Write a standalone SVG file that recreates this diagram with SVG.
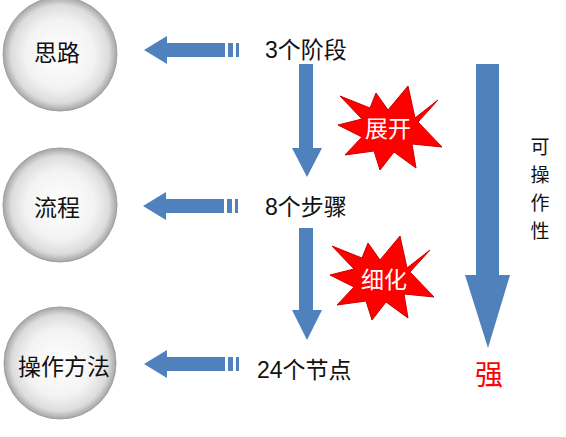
<svg xmlns="http://www.w3.org/2000/svg" xmlns:xlink="http://www.w3.org/1999/xlink" width="566" height="437" viewBox="0 0 566 437">
<style>
.ct{font-family:"Noto Sans CJK SC","Liberation Sans",sans-serif;font-size:23px;fill:#111;text-anchor:middle;dominant-baseline:central}
.lbl{font-family:"Liberation Sans","Noto Sans CJK SC",sans-serif;font-size:23px;fill:#111;dominant-baseline:central}
.vt{font-family:"Noto Sans CJK SC",sans-serif;font-size:19px;fill:#111;text-anchor:middle;dominant-baseline:central}
.burst{fill:#f00;stroke:#c00;stroke-width:1}
.bt{font-family:"Noto Sans CJK SC",sans-serif;font-size:23px;fill:#fff;text-anchor:middle;dominant-baseline:central}
.blue{fill:#4f81bd}
</style>
<defs>
<radialGradient id="g" cx="0.5" cy="0.5" r="0.5">
<stop offset="0" stop-color="#ffffff"/>
<stop offset="0.6" stop-color="#f3f3f3"/>
<stop offset="0.86" stop-color="#dcdcdc"/>
<stop offset="1" stop-color="#a5a5a5"/>
</radialGradient>
<polygon id="star" points="-48,-31 -18,-19 -12,-34 0,-17 20,-41 27,-9 50,-27 30,-5 54,20 24,17 28,41 6,25 -8,43 -14,24 -43,28 -26,10 -50,-2 -26,-8"/>
<g id="harrow">
<polygon points="0,0 23,-14 23,-7 81,-7 81,7 23,7 23,14"/>
<rect x="84" y="-7" width="5" height="14"/>
<rect x="92" y="-7" width="3" height="14"/>
</g>
</defs>
<rect width="566" height="437" fill="#fff"/>
<g id="node-silu">
<circle cx="60" cy="54" r="57" fill="url(#g)" stroke="#a0a0a0" stroke-width="1"/>
<text class="ct" x="57" y="51">思路</text>
</g>
<g id="node-liucheng">
<circle cx="60" cy="205" r="57" fill="url(#g)" stroke="#a0a0a0" stroke-width="1"/>
<text class="ct" x="57" y="206">流程</text>
</g>
<g id="node-caozuo">
<circle cx="60" cy="363" r="56" fill="url(#g)" stroke="#a0a0a0" stroke-width="1"/>
<text class="ct" x="64" y="365">操作方法</text>
</g>
<g id="label-3"><text class="lbl" x="265" y="50">3个阶段</text></g>
<g id="label-8"><text class="lbl" x="265" y="207">8个步骤</text></g>
<g id="label-24"><text class="lbl" x="257" y="370">24个节点</text></g>
<g id="burst-zhankai">
<use xlink:href="#star" href="#star" class="burst" transform="translate(388,127)"/>
<text class="bt" x="388" y="127">展开</text>
</g>
<g id="burst-xihua">
<use xlink:href="#star" href="#star" class="burst" transform="translate(380,277)"/>
<text class="bt" x="384" y="278">细化</text>
</g>
<g id="connectors" class="blue">
<use xlink:href="#harrow" href="#harrow" transform="translate(144,50)"/>
<use xlink:href="#harrow" href="#harrow" transform="translate(143,206)"/>
<use xlink:href="#harrow" href="#harrow" transform="translate(144,364)"/>
<polygon points="299,64 313,64 313,148 322,148 307,177 292,148 299,148"/>
<polygon points="299,228 313,228 313,310 322,310 307,340 292,310 299,310"/>
<polygon points="476,64 499,64 499,275 510,275 488,348 465,275 476,275"/>
</g>
<g id="label-kecaozuoxing">
<text class="vt" x="540" y="145">可</text>
<text class="vt" x="540" y="173">操</text>
<text class="vt" x="540" y="201">作</text>
<text class="vt" x="540" y="229">性</text>
</g>
<g id="label-qiang"><text class="ct" x="489" y="373" style="fill:#f00;font-size:28px">强</text></g>
</svg>
